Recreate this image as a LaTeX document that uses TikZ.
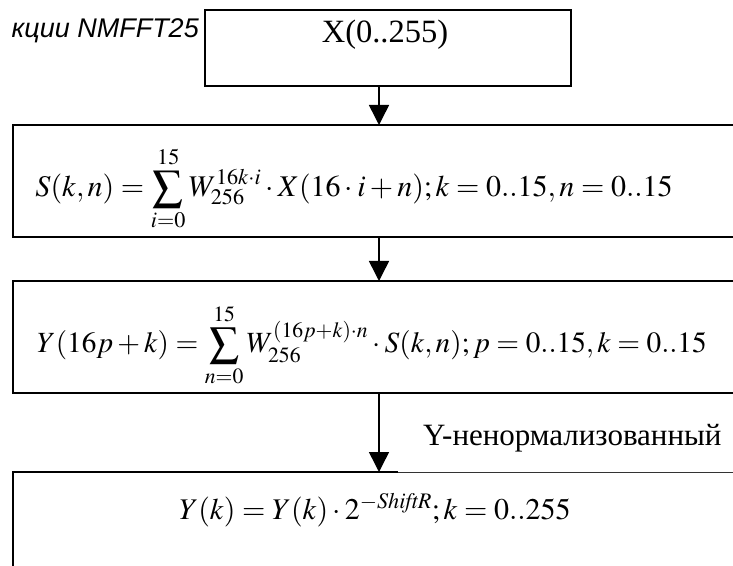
\documentclass[tikz,border=0pt]{standalone}
\usepackage{mathptmx}
\usepackage[no-math]{fontspec}
\setmainfont{Liberation Serif}
\newfontfamily\labelsans{Liberation Sans}
\usetikzlibrary{arrows.meta}
\tikzset{
  boxline/.style={line width=1.6pt, draw=black},
  procbox/.style={rectangle, draw=black, fill=white, line width=1.6pt, inner sep=0pt, outer sep=0pt},
  arr/.style={line width=1.5pt, -{Triangle[length=20pt,width=20pt]}},
  thinline/.style={line width=0.9pt, draw=black!80},
  formula/.style={inner sep=0pt, outer sep=0pt, anchor=base},
}
\begin{document}
\begin{tikzpicture}[x=1pt,y=1pt]
\clip (0,0) rectangle (733,565);
\fill[white] (0,0) rectangle (733,565);
% label (partly hidden behind the first box)
\node[inner sep=0pt, anchor=base east] (lbl) at (199,527) {\labelsans\itshape\fontsize{27}{30}\selectfont кции NMFFT25};
% boxes
\node[procbox, minimum width=366pt, minimum height=76pt] (top) at (388,517) {};
\node[procbox, minimum width=732pt, minimum height=112pt] (s) at (379,384) {};
\node[procbox, minimum width=732pt, minimum height=112pt] (y) at (379,228) {};
\node[rectangle, draw=none, inner sep=0pt, outer sep=0pt, minimum width=732pt, minimum height=120pt] (norm) at (379,33) {};
\coordinate (cut) at (398,93);
\draw[boxline] (norm.south west) -- (norm.north west) -- (norm.north west -| cut);
\draw[thinline] (norm.north west -| cut) -- (norm.north east);
% texts
\node[formula] (xt) at (385,522) {\fontsize{32.5}{38}\selectfont X(0..255)};
\node[formula] (f1) at (354,368) {\fontsize{30}{36}\selectfont $\displaystyle S(k,n)=\sum_{i=0}^{15}W_{256}^{16k\cdot i}\cdot X(16\cdot i+n);k=0..15,n=0..15$};
\node[formula] (f2) at (372,212) {\fontsize{29.3}{35}\selectfont $\displaystyle Y(16p+k)=\sum_{n=0}^{15}W_{256}^{(16p+k)\cdot n}\cdot S(k,n);p=0..15,k=0..15$};
\node[formula] (f3) at (375,46) {\fontsize{30}{36}\selectfont $Y(k)=Y(k)\cdot 2^{-\mathit{ShiftR}};k=0..255$};
\node[inner sep=0pt, anchor=base west] (yn) at (423,120) {\fontsize{31}{36}\selectfont Y-ненормализованный};
% connectors
\draw[arr] (top.south -| s.north) -- (s.north);
\draw[arr] (s.south) -- (y.north);
\draw[arr] (y.south) -- (norm.north);
\end{tikzpicture}
\end{document}
